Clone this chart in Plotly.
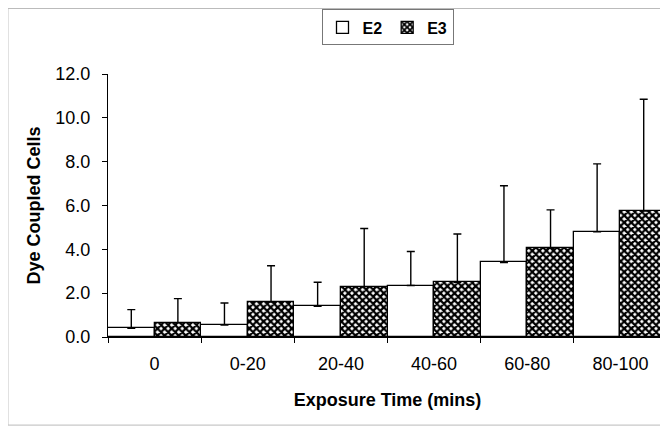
import plotly.graph_objects as go

categories = ["0", "0-20", "20-40", "40-60", "60-80", "80-100"]
e2_values = [0.4, 0.55, 1.4, 2.35, 3.4, 4.8]
e2_err = [0.85, 1.0, 1.1, 1.55, 3.5, 3.1]
e3_values = [0.65, 1.6, 2.3, 2.5, 4.05, 5.75]
e3_err = [1.1, 1.65, 2.65, 2.2, 1.75, 5.1]
y_ticks = [0, 2, 4, 6, 8, 10, 12]
y_tick_labels = ["0.0", "2.0", "4.0", "6.0", "8.0", "10.0", "12.0"]

font_reg = "Liberation Sans, Arial"

fig = go.Figure()
fig.add_trace(go.Bar(
    name="<b>E2</b>", x=categories, y=e2_values,
    marker=dict(color="white", line=dict(color="black", width=1.3)),
    error_y=dict(type="data", array=e2_err, arrayminus=[0]*6, symmetric=False,
                 color="black", thickness=1.4, width=4),
))
fig.add_trace(go.Bar(
    name="<b>E3</b>", x=categories, y=e3_values,
    marker=dict(color="white", line=dict(color="black", width=1.3),
                pattern=dict(shape="x", bgcolor="white", fgcolor="black",
                             size=5, solidity=0.7, fillmode="replace")),
    error_y=dict(type="data", array=e3_err, arrayminus=[0]*6, symmetric=False,
                 color="black", thickness=1.4, width=4),
))

fig.update_layout(
    width=668, height=431,
    margin=dict(l=100, r=9, t=66, b=102, autoexpand=False),
    paper_bgcolor="white", plot_bgcolor="white",
    barmode="group", bargap=0, bargroupgap=0,
    showlegend=True,
    legend=dict(orientation="h", x=0.50, y=0.955, xref="paper", yref="container",
                xanchor="center", yanchor="middle",
                bordercolor="#777", borderwidth=1, bgcolor="white",
                font=dict(family=font_reg, size=16, color="black"),
                itemwidth=30, tracegroupgap=0),
    font=dict(family=font_reg, color="black"),
)
fig.update_xaxes(
    type="category", showline=True, linecolor="black", linewidth=1,
    ticks="outside", tickson="boundaries", ticklen=5, tickcolor="black",
    ticklabelstandoff=10,
    tickfont=dict(family=font_reg, size=18, color="black"),
    title=dict(text="<b>Exposure Time (mins)</b>", font=dict(family=font_reg, size=18), standoff=20),
    showgrid=False, automargin=False,
)
fig.update_yaxes(
    range=[0, 12], showline=True, linecolor="black", linewidth=1,
    tickmode="array", tickvals=y_ticks, ticktext=y_tick_labels,
    ticks="outside", ticklen=5, tickcolor="black",
    ticklabelstandoff=8,
    tickfont=dict(family=font_reg, size=18, color="black"),
    title=dict(text="<b>Dye Coupled Cells</b>", font=dict(family=font_reg, size=18), standoff=10),
    showgrid=False, zeroline=False, automargin=False,
)
fig.add_shape(type="rect", xref="paper", yref="paper",
              x0=-0.179, x1=1.05, y0=-0.335, y1=1.249,
              line=dict(color="#bbbbbb", width=1))
fig.write_html("out.html")
